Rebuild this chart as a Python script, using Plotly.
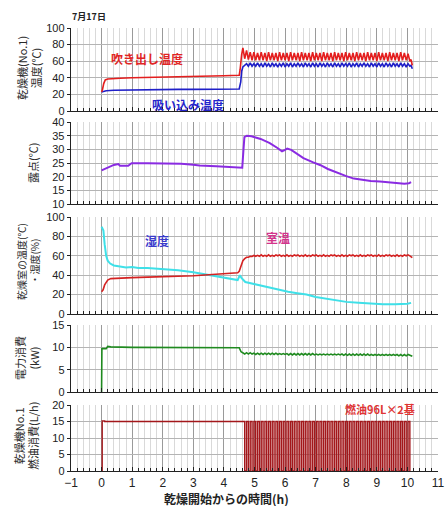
import plotly.graph_objects as go

# ---------------- data ----------------
# common time axis of the oscillating (burner cycling) phase, hours
OSC_T = [4.62, 4.68, 4.74, 4.80, 4.86, 4.92, 4.98, 5.04, 5.10, 5.16,
         5.22, 5.28, 5.34, 5.40, 5.46, 5.52, 5.58, 5.64, 5.70, 5.76,
         5.82, 5.88, 5.94, 6.00, 6.06, 6.12, 6.18, 6.24, 6.30, 6.36,
         6.42, 6.48, 6.54, 6.60, 6.66, 6.72, 6.78, 6.84, 6.90, 6.96,
         7.02, 7.08, 7.14, 7.20, 7.26, 7.32, 7.38, 7.44, 7.50, 7.56,
         7.62, 7.68, 7.74, 7.80, 7.86, 7.92, 7.98, 8.04, 8.10, 8.16,
         8.22, 8.28, 8.34, 8.40, 8.46, 8.52, 8.58, 8.64, 8.70, 8.76,
         8.82, 8.88, 8.94, 9.00, 9.06, 9.12, 9.18, 9.24, 9.30, 9.36,
         9.42, 9.48, 9.54, 9.60, 9.66, 9.72, 9.78, 9.84, 9.90, 9.96,
         10.02, 10.08]
TAIL_T = [10.12, 10.16]

# Panel 1: outlet (吹き出し) temperature
OUT_T_EARLY = [0, 0.03, 0.07, 0.12, 0.2, 0.35, 0.6, 1.0, 1.5, 2.0, 2.5, 3.0, 3.5, 4.0, 4.5, 4.53, 4.58]
OUT_V_EARLY = [23, 26, 33, 37.5, 38.5, 39, 39.5, 40, 40.3, 40.5, 41, 41.5, 42, 42.5, 43, 50, 68]
OUT_V_OSC = [76, 63, 73, 62, 71, 61, 71, 61, 70, 61,
             71, 61, 70, 60, 71, 61, 70, 61, 70, 60,
             71, 61, 70, 61, 70, 60, 71, 61, 70, 61,
             70, 60, 71, 61, 70, 61, 70, 60, 71, 61,
             70, 61, 70, 60, 71, 61, 70, 61, 70, 60,
             71, 61, 70, 61, 70, 60, 71, 61, 70, 61,
             70, 60, 71, 61, 70, 61, 70, 60, 71, 61,
             70, 61, 70, 60, 71, 61, 70, 61, 70, 60,
             71, 61, 70, 61, 70, 60, 71, 61, 70, 61,
             69, 60]
OUT_V_TAIL = [62, 55]

# Panel 1: inlet (吸い込み) temperature
IN_T_EARLY = [0, 0.05, 0.15, 0.4, 1.0, 1.5, 2.0, 2.5, 3.0, 3.5, 4.0, 4.5, 4.55, 4.58]
IN_V_EARLY = [23, 23.5, 24.5, 25, 25.5, 25.5, 25.8, 26, 26, 26.3, 26.5, 26.5, 35, 48]
IN_V_OSC = [53, 55, 57, 54, 58, 54, 57, 54, 58, 54,
            57, 53, 58, 54, 57, 53, 58, 54, 57, 53,
            57, 54, 58, 53, 57, 54, 58, 53, 57, 54,
            58, 54, 57, 53, 58, 54, 57, 53, 58, 54,
            57, 53, 58, 54, 57, 53, 58, 54, 57, 53,
            58, 54, 57, 53, 58, 54, 57, 54, 58, 53,
            57, 54, 58, 53, 57, 54, 58, 54, 57, 53,
            58, 54, 57, 53, 58, 54, 57, 53, 58, 54,
            57, 53, 58, 54, 57, 53, 58, 54, 57, 53,
            57, 54]
IN_V_TAIL = [55, 51]

# Panel 2: dew point
DEW_T = [0, 0.18, 0.4, 0.55, 0.6, 0.87, 0.98, 1.5, 2.1, 2.6, 3.0, 3.2, 3.75, 4.1, 4.45, 4.6,
         4.64, 4.67, 4.75, 4.9, 5.2, 5.5, 5.75, 5.9, 6.0, 6.07, 6.2, 6.4, 6.6, 6.9, 7.16,
         7.4, 7.7, 8.0, 8.25, 8.5, 8.8, 9.1, 9.34, 9.6, 9.9, 10.05, 10.12]
DEW_V = [22.3, 23.1, 24.3, 24.6, 24.0, 24.0, 24.9, 24.9, 24.9, 24.7, 24.4, 24.1, 23.8, 23.6, 23.3, 23.3,
         30.0, 34.5, 35.0, 34.8, 33.8, 32.3, 30.5, 29.3, 29.8, 30.3, 29.8, 28.3, 26.8, 25.3, 24.2,
         22.8, 21.4, 20.2, 19.3, 18.8, 18.4, 18.2, 17.9, 17.6, 17.4, 17.6, 18.0]

# Panel 3: room temperature
ROOM_T_EARLY = [0, 0.05, 0.1, 0.2, 0.3, 0.5, 1.0, 1.5, 2.0, 2.5, 3.0, 3.5, 4.0, 4.45, 4.5, 4.55, 4.6]
ROOM_V_EARLY = [23, 25, 30, 35, 36.5, 37, 37.5, 38, 38.3, 38.8, 39.5, 40.5, 41.5, 42.5, 44, 48, 53]
ROOM_V_OSC = [55, 57, 58.5, 58.5, 59.5, 59.3, 60.3, 59.5, 60.5, 59.5,
              61, 59.5, 60.5, 59.5, 61, 59.5, 60.5, 59.5, 61, 60,
              61, 59.5, 60.5, 59.5, 61, 59.5, 60.5, 59.5, 61, 60,
              61, 59.5, 60.5, 59.5, 61, 59.5, 60.5, 59.5, 61, 60,
              61, 59.5, 60.5, 59.5, 61, 59.5, 60.5, 59.5, 61, 60,
              61, 59.5, 60.5, 59.5, 61, 59.5, 60.5, 59.5, 61, 60,
              61, 59.5, 60.5, 59.5, 61, 59.5, 60.5, 59.5, 61, 60,
              61, 59.5, 60.5, 59.5, 61, 59.5, 60.5, 59.5, 61, 60,
              61, 59.5, 60.5, 59.5, 61, 59.5, 60.5, 59.5, 61, 60,
              61, 60]
ROOM_V_TAIL = [59, 58]

# Panel 3: humidity
HUM_T = [0, 0.03, 0.06, 0.1, 0.15, 0.2, 0.28, 0.4, 0.6, 0.8, 1.0, 1.2, 1.5, 2.0, 2.5, 3.0, 3.5,
         3.9, 4.2, 4.45, 4.52, 4.58, 4.7, 4.9, 5.2, 5.5, 5.8, 6.1, 6.4, 6.7, 7.0, 7.3, 7.6,
         8.0, 8.4, 8.8, 9.2, 9.6, 10.0, 10.12]
HUM_V = [90, 88, 86, 72, 60, 55, 52, 50, 49, 48, 48.5, 47.5, 47.5, 46.5, 45, 43, 40,
         38, 36, 35, 40, 37, 33, 31.5, 29.5, 27.5, 25.5, 23, 21.5, 20, 17.5, 16, 14.5,
         12.5, 11.5, 10.5, 10, 10, 10.5, 11.5]

# Panel 4: electric power
PWR_T_EARLY = [0, 0.01, 0.05, 0.15, 0.2, 0.3, 1.0, 2.0, 3.0, 4.0, 4.5, 4.56]
PWR_V_EARLY = [0, 9.7, 9.7, 9.7, 10.2, 10.1, 10.0, 10.0, 10.0, 9.9, 9.9, 9.0]
PWR_V_OSC = [8.8, 8.5, 8.8, 8.5, 8.8, 8.5, 8.7, 8.4, 8.7, 8.4,
             8.7, 8.4, 8.7, 8.4, 8.7, 8.4, 8.7, 8.4, 8.7, 8.4,
             8.6, 8.4, 8.6, 8.4, 8.6, 8.3, 8.6, 8.3, 8.6, 8.3,
             8.6, 8.3, 8.6, 8.3, 8.6, 8.3, 8.6, 8.3, 8.6, 8.3,
             8.5, 8.3, 8.5, 8.3, 8.5, 8.3, 8.5, 8.3, 8.5, 8.3,
             8.5, 8.3, 8.5, 8.3, 8.5, 8.2, 8.5, 8.2, 8.5, 8.2,
             8.5, 8.2, 8.5, 8.2, 8.5, 8.2, 8.5, 8.2, 8.5, 8.2,
             8.4, 8.2, 8.4, 8.2, 8.4, 8.2, 8.4, 8.2, 8.4, 8.2,
             8.4, 8.2, 8.4, 8.2, 8.4, 8.1, 8.4, 8.1, 8.4, 8.1,
             8.4, 8.2]
PWR_V_TAIL = [8.2, 8.0]

# Panel 5: fuel consumption (burner on / off)
FUEL_T_EARLY = [-0.01, 0.02, 0.1, 4.58]
FUEL_V_EARLY = [0, 15.2, 15, 15]
FUEL_V_OSC = [15, 0, 15, 0, 15, 0, 15, 0, 15, 0,
              15, 0, 15, 0, 15, 0, 15, 0, 15, 0,
              15, 0, 15, 0, 15, 0, 15, 0, 15, 0,
              15, 0, 15, 0, 15, 0, 15, 0, 15, 0,
              15, 0, 15, 0, 15, 0, 15, 0, 15, 0,
              15, 0, 15, 0, 15, 0, 15, 0, 15, 0,
              15, 0, 15, 0, 15, 0, 15, 0, 15, 0,
              15, 0, 15, 0, 15, 0, 15, 0, 15, 0,
              15, 0, 15, 0, 15, 0, 15, 0, 15, 0,
              15, 0]

X_TICKS = [-1, 0, 1, 2, 3, 4, 5, 6, 7, 8, 9, 10, 11]

Y1_TICKS = [0, 20, 40, 60, 80, 100]
Y2_TICKS = [10, 15, 20, 25, 30, 35, 40]
Y3_TICKS = [0, 20, 40, 60, 80, 100]
Y4_TICKS = [0, 5, 10, 15]
Y5_TICKS = [0, 5, 10, 15, 20]

# ---------------- figure ----------------
W, H = 446, 506
ML, MR, MT, MB = 71, 8, 28, 35
PW, PH = W - ML - MR, H - MT - MB


def ydom(top_px, bot_px):
    return [(H - MB - bot_px) / PH, (H - MB - top_px) / PH]


def px_x(p):
    return (p - ML) / PW


def px_y(p):
    return (H - MB - p) / PH


DOMS = [ydom(28, 111), ydom(122, 204), ydom(217, 314), ydom(325, 392), ydom(405, 471)]

fig = go.Figure()

def add(x, y, color, n, width=1.6, shape="linear"):
    fig.add_trace(go.Scatter(
        x=x, y=y, mode="lines", line=dict(color=color, width=width, shape=shape),
        xaxis="x" if n == 1 else f"x{n}", yaxis="y" if n == 1 else f"y{n}",
        showlegend=False, hoverinfo="skip"))

add(IN_T_EARLY + OSC_T + TAIL_T, IN_V_EARLY + IN_V_OSC + IN_V_TAIL, "#1f1fc8", 1)
add(OUT_T_EARLY + OSC_T + TAIL_T, OUT_V_EARLY + OUT_V_OSC + OUT_V_TAIL, "#e41e1e", 1)
add(DEW_T, DEW_V, "#8a2be2", 2, width=2)
add(HUM_T, HUM_V, "#3fe0e8", 3, width=2)
add(ROOM_T_EARLY + OSC_T + TAIL_T, ROOM_V_EARLY + ROOM_V_OSC + ROOM_V_TAIL, "#d42222", 3)
add(PWR_T_EARLY + OSC_T + TAIL_T, PWR_V_EARLY + PWR_V_OSC + PWR_V_TAIL, "#1f8a1f", 4)
add(FUEL_T_EARLY + OSC_T, FUEL_V_EARLY + FUEL_V_OSC, "#a3171b", 5, width=1.4, shape="hv")

TICKFONT = dict(family="Liberation Sans, Arial", size=11, color="#222")
layout = dict(
    width=W, height=H,
    margin=dict(l=ML, r=MR, t=MT, b=MB, autoexpand=False),
    paper_bgcolor="white", plot_bgcolor="white",
    showlegend=False,
)

YT = [Y1_TICKS, Y2_TICKS, Y3_TICKS, Y4_TICKS, Y5_TICKS]
for i in range(5):
    n = i + 1
    xk = "xaxis" if n == 1 else f"xaxis{n}"
    yk = "yaxis" if n == 1 else f"yaxis{n}"
    layout[xk] = dict(
        domain=[0, 1], anchor="y" if n == 1 else f"y{n}",
        range=[-1, 11], tickmode="array", tickvals=X_TICKS,
        showticklabels=(n == 5), tickfont=dict(family="Liberation Sans, Arial", size=12, color="#222"),
        showgrid=True, gridcolor="#9a9a9a", gridwidth=1,
        minor=dict(dtick=0.2, showgrid=True, gridcolor="#d9d9d9", gridwidth=1,
                   ticks="inside", ticklen=3, tickcolor="#222"),
        showline=True, linecolor="#222", linewidth=1.3,
        ticks="inside", ticklen=4, tickcolor="#222",
        zeroline=False, fixedrange=True,
        matches=None if n == 1 else "x",
    )
    ticks = YT[i]
    layout[yk] = dict(
        domain=DOMS[i], anchor="x" if n == 1 else f"x{n}",
        range=[ticks[0], ticks[-1]], tickmode="array", tickvals=ticks,
        tickfont=TICKFONT,
        showgrid=True, gridcolor="#b4b4b4", gridwidth=1,
        showline=True, linecolor="#222", linewidth=1.3,
        ticks="outside", ticklen=3, tickcolor="#222",
        zeroline=False, fixedrange=True,
    )

fig.update_layout(**layout)

JP = "Noto Sans CJK JP"
ann = []
# y-axis titles (rotated)
def ytitle(text, xpx, ypx, size=11):
    ann.append(dict(text=text, xref="paper", yref="paper", x=px_x(xpx), y=px_y(ypx),
                    xanchor="center", yanchor="middle", textangle=-90, showarrow=False,
                    font=dict(family=JP, size=size, color="#2a2a2a")))

ytitle("乾燥機(No.1)<br>温度(℃)", 29, 68)
ytitle("露点(℃)", 33, 163)
ytitle("乾燥室の温度(℃)<br>・湿度(%)", 28, 262, size=10)
ytitle("電力消費<br>(kW)", 27, 358)
ytitle("乾燥機No.1<br>燃油消費(L/h)", 26, 436)

def label(text, xpx, ypx, color, size=12, bold=True):
    ann.append(dict(text=f"<b>{text}</b>" if bold else text, xref="paper", yref="paper",
                    x=px_x(xpx), y=px_y(ypx), xanchor="center", yanchor="middle",
                    showarrow=False, font=dict(family=JP, size=size, color=color)))

label("7月17日", 89, 17, "#222", size=9)
label("吹き出し温度", 147, 59, "#e02525")
label("吸い込み温度", 188, 104, "#2525cc")
label("湿度", 157, 241, "#3a3acc")
label("室温", 278, 237, "#d3338c")
label("燃油96L×2基", 380, 409, "#e03535", size=11)
label("乾燥開始からの時間(h)", 226, 498, "#222", size=12)

fig.update_layout(annotations=ann)
fig.write_html("out.html",
               config={"displayModeBar": False, "staticPlot": True},
               post_script="document.body.style.margin='0';document.body.style.padding='0';")
